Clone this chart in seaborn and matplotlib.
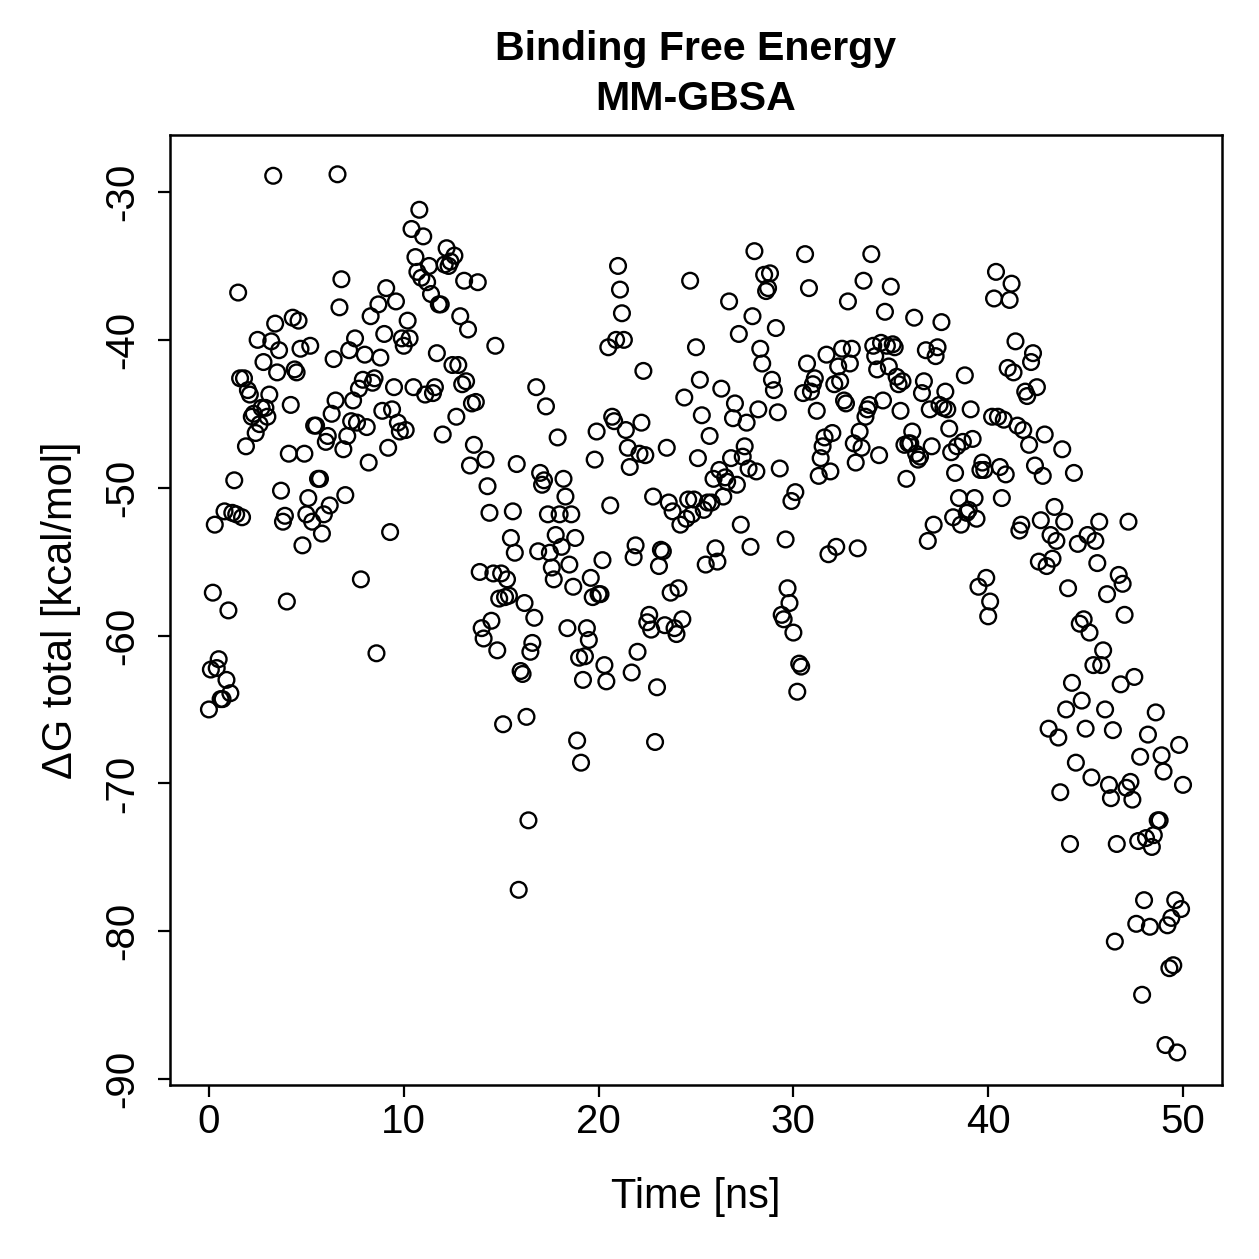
import numpy as np
import pandas as pd
import matplotlib
matplotlib.use('Agg')
import matplotlib.pyplot as plt
import seaborn as sns

# значения dG (ккал/моль), шаг по времени ~0.1 нс
dg_total = [
    -65.0, -62.3, -57.1, -52.5, -62.2, -61.6, -64.3, -64.3, -51.6, -63.0,
    -58.3, -63.9, -51.7, -49.5, -51.8, -36.8, -42.6, -52.0, -42.6, -47.2,
    -43.4, -43.7, -45.2, -45.0, -46.3, -40.0, -45.7, -44.6, -41.5, -44.6,
    -45.2, -43.7, -40.1, -28.9, -38.9, -42.2, -40.7, -50.2, -52.3, -51.9,
    -57.7, -47.7, -44.4, -38.5, -42.0, -42.2, -38.7, -40.6, -53.9, -47.7,
    -51.8, -50.7, -40.4, -52.3, -45.8, -45.8, -49.4, -49.4, -53.1, -51.8,
    -46.9, -46.5, -51.2, -45.0, -41.3, -44.1, -28.8, -37.8, -35.9, -47.4,
    -50.5, -46.5, -40.7, -45.5, -44.1, -39.9, -45.6, -43.3, -56.2, -42.7,
    -41.0, -45.9, -48.3, -38.4, -42.9, -42.6, -61.2, -37.6, -41.2, -44.8,
    -39.6, -36.5, -47.3, -53.0, -44.7, -43.2, -37.4, -45.6, -46.2, -39.9,
    -40.4, -46.1, -38.7, -39.9, -32.5, -43.2, -34.4, -35.4, -31.2, -35.8,
    -33.0, -43.7, -36.1, -35.0, -36.9, -43.6, -43.2, -40.9, -37.6, -37.6,
    -46.4, -34.9, -33.8, -35.0, -34.7, -41.7, -34.3, -45.2, -41.7, -38.4,
    -43.0, -36.0, -42.8, -39.3, -48.5, -44.3, -47.1, -44.2, -36.1, -55.7,
    -59.5, -60.2, -48.1, -49.9, -51.7, -59.0, -55.8, -40.4, -61.0, -57.5,
    -55.8, -66.0, -57.4, -56.2, -57.3, -53.4, -51.6, -54.4, -48.4, -77.2,
    -62.4, -62.6, -57.8, -65.5, -72.5, -61.1, -60.5, -58.8, -43.2, -54.3,
    -49.0, -49.8, -49.5, -44.5, -51.8, -54.4, -55.4, -56.2, -53.2, -46.6,
    -51.8, -54.0, -49.4, -50.6, -59.5, -55.2, -51.8, -56.7, -53.4, -67.1,
    -61.5, -68.6, -63.0, -61.4, -59.5, -60.3, -56.1, -57.4, -48.1, -46.2,
    -57.2, -57.2, -54.9, -62.0, -63.1, -40.5, -51.2, -45.2, -45.5, -40.0,
    -35.0, -36.6, -38.2, -40.0, -46.1, -47.3, -48.6, -62.5, -54.7, -53.9,
    -61.1, -47.7, -45.6, -42.1, -47.8, -59.1, -58.6, -59.6, -50.6, -67.2,
    -63.5, -55.3, -54.2, -54.3, -59.3, -47.3, -51.0, -57.1, -51.6, -59.5,
    -59.9, -56.8, -52.5, -58.9, -43.9, -52.1, -50.8, -36.0, -51.8, -50.8,
    -40.5, -48.0, -42.7, -45.1, -51.5, -55.2, -51.0, -46.5, -51.0, -49.4,
    -54.1, -55.0, -48.8, -43.3, -50.6, -49.3, -49.6, -37.4, -48.0, -45.3,
    -44.3, -49.8, -39.6, -52.5, -47.9, -47.2, -45.6, -48.7, -54.0, -38.4,
    -34.0, -48.9, -44.7, -40.6, -41.6, -35.6, -36.7, -36.5, -35.5, -42.7,
    -43.4, -39.2, -44.9, -48.7, -58.6, -58.9, -53.5, -56.8, -57.8, -50.9,
    -59.8, -50.3, -63.8, -61.9, -62.1, -43.6, -34.2, -41.6, -36.5, -43.5,
    -43.0, -42.6, -44.8, -49.2, -48.0, -47.2, -46.6, -41.0, -54.5, -48.9,
    -46.3, -43.0, -54.0, -41.8, -42.8, -40.6, -44.1, -44.3, -37.4, -41.6,
    -40.6, -47.0, -48.3, -54.1, -46.2, -47.3, -36.0, -45.2, -44.7, -44.4,
    -34.2, -40.4, -41.1, -42.0, -47.8, -40.2, -44.1, -38.1, -40.4, -41.8,
    -36.4, -40.3, -40.5, -42.5, -43.0, -44.8, -42.8, -47.1, -49.4, -47.0,
    -47.0, -46.2, -38.5, -47.7, -48.1, -47.9, -43.6, -42.8, -40.7, -53.6,
    -44.7, -47.2, -52.5, -41.1, -40.5, -44.4, -38.8, -44.6, -43.5, -44.7,
    -46.0, -47.6, -52.0, -49.0, -47.2, -50.7, -52.5, -46.9, -42.4, -51.7,
    -51.5, -44.7, -46.7, -50.7, -52.1, -56.7, -48.8, -48.3, -48.8, -56.1,
    -58.7, -57.7, -45.2, -37.2, -35.4, -45.2, -48.6, -50.7, -45.4, -49.1,
    -41.9, -37.3, -36.2, -42.2, -40.1, -45.8, -52.9, -52.5, -46.1, -43.5,
    -43.8, -47.1, -41.5, -40.9, -48.5, -43.2, -55.0, -52.2, -49.2, -46.4,
    -55.3, -66.3, -53.2, -54.8, -51.3, -53.6, -66.9, -70.6, -47.4, -52.3,
    -65.0, -56.8, -74.1, -63.2, -49.0, -68.6, -53.8, -59.2, -64.4, -58.9,
    -66.3, -53.2, -59.8, -69.6, -62.0, -53.6, -55.1, -52.3, -62.0, -61.0,
    -65.0, -57.2, -70.1, -71.0, -66.4, -80.7, -74.1, -55.9, -63.3, -56.5,
    -58.6, -70.3, -52.3, -69.9, -71.1, -62.8, -79.5, -73.9, -68.2, -84.3,
    -77.9, -73.7, -66.7, -79.7, -74.3, -73.5, -65.2, -72.5, -72.5, -68.1,
    -69.2, -87.7, -79.6, -82.5, -79.1, -82.3, -77.9, -88.2, -67.4, -78.5,
    -70.1,
]
t_start, t_end = 0.0, 50.0

x_ticks = [0, 10, 20, 30, 40, 50]
y_ticks = [-90, -80, -70, -60, -50, -40, -30]

time_ns = np.linspace(t_start, t_end, len(dg_total))
df = pd.DataFrame({'time': time_ns, 'dG': dg_total})

sns.set_style('white')
plt.rcParams['font.family'] = ['Liberation Sans', 'DejaVu Sans']
plt.rcParams['text.color'] = 'black'
plt.rcParams['axes.labelcolor'] = 'black'

fig = plt.figure(figsize=(6.295, 6.295), dpi=200)
ax = fig.add_axes([0.135, 0.138, 0.8356, 0.7548])

sns.scatterplot(data=df, x='time', y='dG', ax=ax, s=32, marker='o',
                facecolor='none', edgecolor='black', linewidth=0.85)

ax.set_xlim(-2.0, 52.0)
ax.set_ylim(-90.42, -26.14)
ax.set_xticks(x_ticks)
ax.set_yticks(y_ticks)
ax.set_yticklabels([str(v) for v in y_ticks], rotation=90, va='center')
ax.tick_params(axis='both', direction='out', length=4.3, width=0.8,
               labelsize=14.5, color='black', labelcolor='black',
               bottom=True, left=True)
ax.tick_params(axis='x', pad=2)
ax.tick_params(axis='y', pad=6)

for sp in ax.spines.values():
    sp.set_visible(True)
    sp.set_color('black')
    sp.set_linewidth(0.9)

ax.set_xlabel('Time [ns]', fontsize=15, labelpad=13)
ax.set_ylabel('ΔG total [kcal/mol]', fontsize=15, labelpad=8)
ax.set_title('Binding Free Energy\nMM-GBSA', fontsize=14.8, fontweight='bold',
             linespacing=1.4, pad=9)

fig.savefig('out.png', dpi=200)
